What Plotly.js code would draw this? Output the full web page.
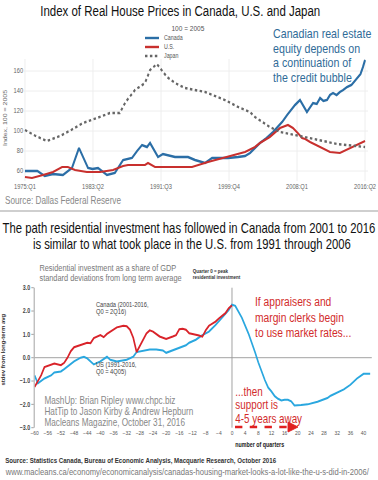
<!DOCTYPE html>
<html><head><meta charset="utf-8">
<script src="https://cdn.plot.ly/plotly-3.0.1.min.js"></script>
<style>
html,body{margin:0;padding:0;background:#fff;overflow:hidden;width:378px;height:480px}
#chart{width:461px;height:480px;transform:scaleX(0.81996);transform-origin:0 0}
</style>
</head><body><div id="chart"></div><script>
// ---------- Top chart: Index of real house prices (100 = 2005) ----------
const caYears = [1975.0,1976.0,1976.5,1977.4,1978.4,1979.6,1980.7,1981.55,1982.65,1983.2,1983.86,1984.95,1985.9,1986.9,1987.98,1988.6,1989.2,1989.8,1990.17,1991.14,1991.74,1993.2,1994.78,1995.62,1996.84,1997.7,1999.63,2000.84,2001.69,2002.3,2002.9,2003.5,2004.3,2005.1,2006.2,2006.8,2007.76,2008.36,2009.2,2009.94,2010.4,2010.8,2011.2,2011.64,2012.0,2012.37,2012.8,2013.2,2013.6,2014.06,2014.6,2015.28,2015.7,2016.0,2016.25];
const caIndex = [60,60,60,55,57,56,63,83,63,62,63,56,58,71,73,80,86,84,88,74,77,74,74,71,68,73,73,74,75,78,83,88,93,99,109,116,126,131,119,128,127,133,130,131,136,138,136,139,141,144,146,153,157,164,171];

const usYears = [1975.0,1975.85,1977.18,1978.4,1979.5,1980.2,1981.07,1982.5,1984.1,1985.68,1986.9,1987.5,1989.56,1989.92,1990.77,1992.23,1995.26,1997.2,1999.63,2001.69,2002.9,2003.5,2004.7,2005.94,2006.9,2007.5,2008.2,2008.6,2009.0,2009.58,2010.8,2012.0,2013.2,2014.43,2015.3,2016.0,2016.25];
const usIndex = [54,53,56,59,64,64,61,59,59,61,65,66,66,68,64,64,64,69,74,79,84,88,94,103,106,103,97,93,92,89,84,79,78,83,86,89,90];

const jpYears = [1975.0,1976.3,1977.67,1979.25,1980.6,1982.04,1983.73,1985.3,1986.5,1987.2,1988.35,1989.56,1990.17,1991.0,1992.23,1993.2,1994.4,1996.84,1999.26,2000.84,2002.3,2002.9,2004.7,2005.94,2008.36,2010.43,2012.86,2016.25];
const jpIndex = [101,95,90,95,101,108,113,118,118,129,141,148,161,167,154,148,143,139,131,124,119,114,104,99,95,91,87,84];

const topTickVals = [1975,1983.25,1991.5,1999.75,2008,2016.25];
const topTickText = ['1975:Q1','1983:Q2','1991:Q3','1999:Q4','2008:Q1','2016:Q2'];
const topYTicks = [60,80,100,120,140,160];

// ---------- Bottom chart: residential investment, st.dev from long-term avg ----------
const caQuarter = [-60,-59,-58,-57,-55,-54,-52,-51,-50,-49,-48,-46,-44,-43,-42,-40,-39,-38,-36,-35,-33,-32,-31,-30,-29,-28,-27,-26,-25,-24,-22,-20,-18,-17,-16,-15,-14,-13,-12,-11,-10,-9,-8,-7,-5,-4,-2,-1,0];
const caResInv = [-1.25,-1.0,-0.75,-0.40,-0.30,-0.25,-0.32,-0.22,0.0,0.28,0.45,0.53,0.64,0.62,0.84,0.97,0.88,1.02,1.21,1.30,1.37,1.35,1.20,0.85,0.24,0.50,0.75,1.04,1.17,1.12,0.91,0.80,0.91,0.97,1.22,1.24,1.20,1.05,1.02,1.00,0.95,0.90,1.17,1.37,1.55,1.68,1.91,2.12,2.24];

const usQuarter = [-60,-59,-57,-55,-54,-52,-51,-49,-48,-46,-45,-44,-42,-40,-38,-37,-35,-32,-30,-29,-27,-25,-23,-21,-20,-18,-16,-14,-13,-11,-9,-7,-5,-3,-1,0,1,3,5,7,8,10,11,12,13,14,15,16,17,18,19,21,23,26,27,29,30,32,34,36,38,40,42];
const usResInv = [-0.76,-1.10,-0.89,-0.76,-0.63,-0.59,-0.49,-0.29,-0.16,0.0,0.04,-0.03,-0.29,-0.16,0.04,-0.09,-0.16,-0.09,0.04,0.24,0.31,0.35,0.35,0.31,0.21,0.31,0.40,0.53,0.64,0.77,0.97,1.12,1.40,1.72,2.04,2.27,2.22,1.71,1.04,0.24,-0.20,-0.96,-1.28,-1.45,-1.65,-1.76,-1.83,-1.80,-1.80,-1.87,-2.05,-2.03,-2.00,-1.89,-1.83,-1.73,-1.63,-1.49,-1.36,-1.16,-0.89,-0.69,-0.69];

const botTickVals = [];
for (let q = -60; q <= 40; q += 4) botTickVals.push(q);
const botYTicks = [-3,-2,-1,0,1,2,3];

// ---------- layout helpers (positions measured on the 378px-wide picture) ----------
const W = 378, H = 480, RENDER_W = 461;
const FONT = '"Liberation Sans", Arial, sans-serif';
const px = x => x / W;
const py = y => 1 - y / H;
function T(text, x, y, size, color, o) {
  o = o || {};
  return {xref:'paper', yref:'paper', x:px(x), y:py(y), text:text, showarrow:false,
    xanchor:o.xa || 'left', yanchor:'middle', textangle:o.rot || 0,
    font:{family:o.family || FONT, size:size, color:color, weight:o.bold ? 'bold' : 'normal'}};
}
function L(x0, y0, x1, y1, color, width, dash) {
  return {type:'line', xref:'paper', yref:'paper', x0:px(x0), y0:py(y0), x1:px(x1), y1:py(y1),
    line:{color:color, width:width, dash:dash || 'solid'}};
}

const BLUE = '#2b6ea6', RED = '#c8302e', GREY = '#666';
const RED2 = '#d9232a', CYAN = '#2aa7df';

const data = [
  {x:caYears, y:caIndex, type:'scatter', mode:'lines', name:'Canada', xaxis:'x', yaxis:'y', line:{color:BLUE, width:2.4}},
  {x:usYears, y:usIndex, type:'scatter', mode:'lines', name:'U.S.', xaxis:'x', yaxis:'y', line:{color:RED, width:2.2}},
  {x:jpYears, y:jpIndex, type:'scatter', mode:'lines', name:'Japan', xaxis:'x', yaxis:'y', line:{color:GREY, width:2.4, dash:'dot'}},
  {x:usQuarter, y:usResInv, type:'scatter', mode:'lines', name:'US (1991-2016, Q0 = 4Q05)', xaxis:'x2', yaxis:'y2', line:{color:CYAN, width:2}},
  {x:caQuarter, y:caResInv, type:'scatter', mode:'lines', name:'Canada (2001-2016, Q0 = 2Q16)', xaxis:'x2', yaxis:'y2', line:{color:RED2, width:2}}
];

const annotations = [
  T('Index of Real House Prices in Canada, U.S. and Japan', 180, 11, 14, '#111', {xa:'center'}),
  T('100 = 2005', 188, 28, 8, '#555', {xa:'center'}),
  T('Canada', 162, 38, 6.5, '#555'),
  T('U.S.', 162, 47, 6.5, '#555'),
  T('Japan', 162, 56, 6.5, '#555'),
  T('Index, 100 = 2005', 5, 118, 7, '#666', {xa:'center', rot:-90}),
  T('Canadian real estate', 271, 34, 13, '#2f6b98'),
  T('equity depends on', 271, 49, 13, '#2f6b98'),
  T('a continuation of', 271, 63, 13, '#2f6b98'),
  T('the credit bubble', 271, 77, 13, '#2f6b98'),
  T('Source: Dallas Federal Reserve', 3, 201, 10, '#888'),
  T('The path residential investment has followed in Canada from 2001 to 2016', 189, 228, 13.8, '#111', {xa:'center'}),
  T('is similar to what took place in the U.S. from 1991 through 2006', 192, 245, 13.8, '#111', {xa:'center'}),
  T('Residential investment as a share of GDP', 38, 268, 9, '#777'),
  T('standard deviations from long term average', 38, 278, 9, '#777'),
  T('Quarter 0 = peak', 191, 271, 5.5, '#333', {bold:true}),
  T('residential investment', 191, 277, 5.5, '#333', {bold:true}),
  T('Canada (2001-2016,', 94, 305, 7, '#444'),
  T('Q0 = 2Q16)', 94, 312, 7, '#444'),
  T('US (1991-2016,', 94, 365, 7, '#444'),
  T('Q0 = 4Q05)', 94, 372, 7, '#444'),
  T('If appraisers and', 253, 302, 12.5, '#d22b2b'),
  T('margin clerks begin', 253, 318, 12.5, '#d22b2b'),
  T('to use market rates...', 253, 333, 12.5, '#d22b2b'),
  T('...then', 234, 392, 12, '#d22b2b'),
  T('support is', 234, 405, 12, '#d22b2b'),
  T('4-5 years away', 234, 419, 12, '#d22b2b'),
  T('MashUp: Brian Ripley www.chpc.biz', 43, 400, 10, '#888'),
  T('HatTip to Jason Kirby &amp; Andrew Hepburn', 43, 411, 10, '#888'),
  T('Macleans Magazine, October 31, 2016', 43, 422, 10, '#888'),
  T('number of quarters', 234, 445, 6.5, '#222', {bold:true}),
  T('stdev from long-term avg', 3, 350, 6, '#333', {xa:'center', rot:-90, bold:true}),
  T('Source: Statistics Canada, Bureau of Economic Analysis, Macquarie Research, October 2016', 3, 460, 7.5, '#333', {bold:true}),
  T('www.macleans.ca/economy/economicanalysis/canadas-housing-market-looks-a-lot-like-the-u-s-did-in-2006/', 3, 472, 9.3, '#777')
];

const shapes = [
  L(145, 38, 159, 38, BLUE, 2.4),
  L(145, 47, 159, 47, RED, 2.4),
  L(145, 56, 159, 56, GREY, 2.4, 'dot'),
  L(0, 211, 378, 211, '#cfcfcf', 2),
  L(235, 427, 289, 427, '#e02020', 2.5, 'dash'),
  {type:'path', xref:'paper', yref:'paper', fillcolor:'#e02020', line:{color:'#e02020', width:1},
   path:'M '+px(288)+' '+py(422)+' L '+px(298)+' '+py(427)+' L '+px(288)+' '+py(432)+' Z'}
];

const layout = {
  width:RENDER_W, height:H, margin:{l:0, r:0, t:0, b:0}, paper_bgcolor:'#fff', plot_bgcolor:'rgba(0,0,0,0)',
  showlegend:false, font:{family:FONT},
  xaxis:{domain:[24/W, 368/W], range:[1974.88, 2016.61], anchor:'y', tickvals:topTickVals, ticktext:topTickText,
    tickfont:{size:7, color:'#666'}, showgrid:true, gridcolor:'#ececec', zeroline:false, showline:false, ticks:''},
  yaxis:{domain:[py(181), py(59)], range:[50, 172], anchor:'x', tickvals:topYTicks,
    tickfont:{size:7, color:'#666'}, showgrid:true, gridcolor:'#ececec', zeroline:false, showline:false, ticks:''},
  xaxis2:{domain:[34.6/W, 371.8/W], range:[-60, 42.5], anchor:'y2', tickvals:botTickVals,
    tickfont:{size:6, color:'#555'}, showgrid:false, zeroline:true, zerolinecolor:'#999', zerolinewidth:1, showline:false, ticks:''},
  yaxis2:{domain:[py(427.7), py(287.7)], range:[-3, 3], anchor:'x2', tickvals:botYTicks, tickformat:'.1f',
    tickfont:{size:6.5, color:'#444', weight:'bold'}, showgrid:false, zeroline:true, zerolinecolor:'#999', zerolinewidth:1,
    showline:true, linecolor:'#999', linewidth:1, ticks:'outside', ticklen:3, tickcolor:'#999'},
  annotations:annotations, shapes:shapes
};

Plotly.newPlot('chart', data, layout, {staticPlot:true, displayModeBar:false});
</script></body></html>
